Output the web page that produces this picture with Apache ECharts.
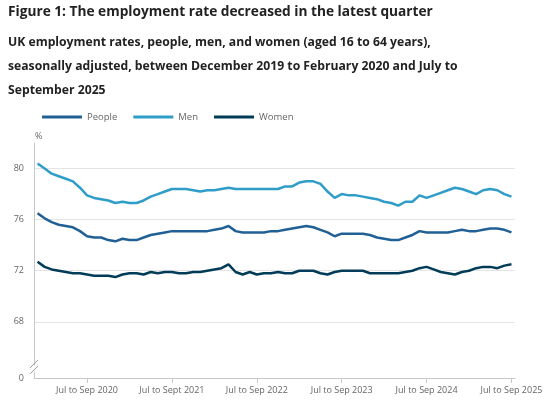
<!DOCTYPE html>
<html>
<head>
<meta charset="utf-8">
<script src="https://cdn.jsdelivr.net/npm/echarts@6/dist/echarts.min.js"></script>
<style>
  html, body { margin: 0; padding: 0; background: #fff; }
  #chart { width: 550px; height: 405px; }
</style>
</head>
<body>
<div id="chart"></div>
<script>
const titleText = 'Figure 1: The employment rate decreased in the latest quarter';
const subtitleLines = [
  'UK employment rates, people, men, and women (aged 16 to 64 years),',
  'seasonally adjusted, between December 2019 to February 2020 and July to',
  'September 2025'
];

const categories = [
  'Dec to Feb 2020','Jan to Mar 2020','Feb to Apr 2020','Mar to May 2020','Apr to Jun 2020','May to Jul 2020',
  'Jun to Aug 2020','Jul to Sep 2020','Aug to Oct 2020','Sep to Nov 2020','Oct to Dec 2020','Nov to Jan 2021',
  'Dec to Feb 2021','Jan to Mar 2021','Feb to Apr 2021','Mar to May 2021','Apr to Jun 2021','May to Jul 2021',
  'Jun to Aug 2021','Jul to Sept 2021','Aug to Oct 2021','Sep to Nov 2021','Oct to Dec 2021','Nov to Jan 2022',
  'Dec to Feb 2022','Jan to Mar 2022','Feb to Apr 2022','Mar to May 2022','Apr to Jun 2022','May to Jul 2022',
  'Jun to Aug 2022','Jul to Sep 2022','Aug to Oct 2022','Sep to Nov 2022','Oct to Dec 2022','Nov to Jan 2023',
  'Dec to Feb 2023','Jan to Mar 2023','Feb to Apr 2023','Mar to May 2023','Apr to Jun 2023','May to Jul 2023',
  'Jun to Aug 2023','Jul to Sep 2023','Aug to Oct 2023','Sep to Nov 2023','Oct to Dec 2023','Nov to Jan 2024',
  'Dec to Feb 2024','Jan to Mar 2024','Feb to Apr 2024','Mar to May 2024','Apr to Jun 2024','May to Jul 2024',
  'Jun to Aug 2024','Jul to Sep 2024','Aug to Oct 2024','Sep to Nov 2024','Oct to Dec 2024','Nov to Jan 2025',
  'Dec to Feb 2025','Jan to Mar 2025','Feb to Apr 2025','Mar to May 2025','Apr to Jun 2025','May to Jul 2025',
  'Jun to Aug 2025','Jul to Sep 2025'
];

const xTickLabels = ['Jul to Sep 2020','Jul to Sept 2021','Jul to Sep 2022','Jul to Sep 2023','Jul to Sep 2024','Jul to Sep 2025'];

const people = [
  76.5,76.1,75.8,75.6,75.5,75.4,75.1,74.7,74.6,74.6,74.4,74.3,
  74.5,74.4,74.4,74.6,74.8,74.9,75.0,75.1,75.1,75.1,75.1,75.1,
  75.1,75.2,75.3,75.5,75.1,75.0,75.0,75.0,75.0,75.1,75.1,75.2,
  75.3,75.4,75.5,75.4,75.2,75.0,74.7,74.9,74.9,74.9,74.9,74.8,
  74.6,74.5,74.4,74.4,74.6,74.8,75.1,75.0,75.0,75.0,75.0,75.1,
  75.2,75.1,75.1,75.2,75.3,75.3,75.2,75.0
];
const men = [
  80.4,80.0,79.6,79.4,79.2,79.0,78.5,77.9,77.7,77.6,77.5,77.3,
  77.4,77.3,77.3,77.5,77.8,78.0,78.2,78.4,78.4,78.4,78.3,78.2,
  78.3,78.3,78.4,78.5,78.4,78.4,78.4,78.4,78.4,78.4,78.4,78.6,
  78.6,78.9,79.0,79.0,78.8,78.2,77.7,78.0,77.9,77.9,77.8,77.7,
  77.6,77.4,77.3,77.1,77.4,77.4,77.9,77.7,77.9,78.1,78.3,78.5,
  78.4,78.2,78.0,78.3,78.4,78.3,78.0,77.8
];
const women = [
  72.7,72.3,72.1,72.0,71.9,71.8,71.8,71.7,71.6,71.6,71.6,71.5,
  71.7,71.8,71.8,71.7,71.9,71.8,71.9,71.9,71.8,71.8,71.9,71.9,
  72.0,72.1,72.2,72.5,71.9,71.7,71.9,71.7,71.8,71.8,71.9,71.8,
  71.8,72.0,72.0,72.0,71.8,71.7,71.9,72.0,72.0,72.0,72.0,71.8,
  71.8,71.8,71.8,71.8,71.9,72.0,72.2,72.3,72.1,71.9,71.8,71.7,
  71.9,72.0,72.2,72.3,72.3,72.2,72.4,72.5
];

const seriesNames = ['People', 'Men', 'Women'];
const seriesColors = ['#206095', '#2f9dc8', '#003c57'];

// Broken y-axis: the bottom of the axis stands for 0
const yTicks = [68, 72, 76, 80];
const yAxisFloor = 63.6;   // axis bottom (shown as 0 after the break)
const yAxisTop = 82;

const chart = echarts.init(document.getElementById('chart'), null, { renderer: 'canvas' });
const FONT = '"Open Sans", "Noto Sans", sans-serif';

const option = {
  backgroundColor: '#ffffff',
  animation: false,
  title: {
    text: titleText,
    subtext: subtitleLines.join('\n'),
    left: 3,
    top: 0,
    itemGap: 11,
    textStyle: { fontFamily: FONT, fontSize: 13.7, fontWeight: 'bold', color: '#222222' },
    subtextStyle: { fontFamily: FONT, fontSize: 12.2, fontWeight: 'bold', color: '#222222', lineHeight: 24.3 }
  },
  legend: {
    data: seriesNames,
    left: 42,
    top: 112,
    padding: 0,
    icon: 'rect',
    itemWidth: 40,
    itemHeight: 3,
    itemGap: 16,
    textStyle: { fontFamily: FONT, fontSize: 9.5, color: '#666666' }
  },
  grid: { left: 34, right: 35, top: 143, bottom: 27, containLabel: false },
  xAxis: {
    type: 'category',
    data: categories,
    boundaryGap: true,
    axisLine: { lineStyle: { color: '#c8c8c8', width: 1 } },
    axisTick: {
      show: true, alignWithLabel: true, length: 5,
      interval: (i, v) => xTickLabels.includes(v),
      lineStyle: { color: '#c8c8c8' }
    },
    axisLabel: {
      interval: (i, v) => xTickLabels.includes(v),
      fontFamily: FONT, fontSize: 9, color: '#666666', margin: 8
    },
    splitLine: { show: false }
  },
  yAxis: {
    type: 'value',
    min: yAxisFloor,
    max: yAxisTop,
    name: '%',
    nameLocation: 'end',
    nameGap: 2,
    nameTextStyle: { fontFamily: FONT, fontSize: 9, color: '#666666', align: 'left', padding: [0, 0, 0, 1] },
    axisLine: { show: true, lineStyle: { color: '#c8c8c8', width: 1 } },
    axisTick: { show: false, customValues: yTicks },
    axisLabel: {
      customValues: [yAxisFloor].concat(yTicks),
      formatter: v => (v === yAxisFloor ? '0' : String(v)),
      fontFamily: FONT, fontSize: 9, color: '#666666', margin: 10
    },
    splitLine: { show: true, lineStyle: { color: '#e4e4e4', width: 1 } }
  },
  series: [people, men, women].map((d, k) => ({
    name: seriesNames[k],
    type: 'line',
    data: d,
    showSymbol: false,
    symbol: 'none',
    smooth: false,
    lineStyle: { color: seriesColors[k], width: 2.5 },
    itemStyle: { color: seriesColors[k] },
    z: 3 - k
  }))
};
chart.setOption(option);

// Axis-break marker (//) on the y-axis line, placed through the axis scale
const axisX = chart.getModel().getComponent('grid', 0).coordinateSystem.getRect().x;
const yMid = chart.convertToPixel({ yAxisIndex: 0 }, yAxisFloor + 0.75);
chart.setOption({
  graphic: [
    { type: 'rect', shape: { x: axisX - 2, y: yMid - 3, width: 4, height: 6 }, style: { fill: '#ffffff' }, z: 100 },
    { type: 'line', shape: { x1: axisX - 4, y1: yMid - 0.5, x2: axisX + 4, y2: yMid - 8.5 }, style: { stroke: '#999999', lineWidth: 1 }, z: 101 },
    { type: 'line', shape: { x1: axisX - 4, y1: yMid + 5.5, x2: axisX + 4, y2: yMid - 2.5 }, style: { stroke: '#999999', lineWidth: 1 }, z: 101 }
  ]
});
</script>
</body>
</html>
